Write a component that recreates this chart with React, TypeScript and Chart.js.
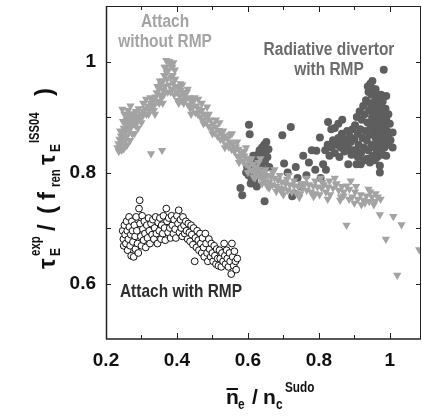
import React, { useEffect, useRef } from 'react';
import { Chart, registerables } from 'chart.js';

Chart.register(...registerables);

const FF = "'Liberation Sans', Arial, Helvetica, sans-serif";

const xMin = 0.2;
const xMax = 1.088;
const yMin = 0.5;
const yMax = 1.1;
const xTickLabels = [0.2, 0.4, 0.6, 0.8, 1.0];
const yTickLabels = [0.6, 0.8, 1.0];
const xTickMarks = [0.3, 0.4, 0.5, 0.6, 0.7, 0.8, 0.9, 1.0];
const yTickMarks = [0.6, 0.7, 0.8, 0.9, 1.0];

// Attach without RMP (light grey down-triangles)
const attachNoRmp: [number, number][] = [
  [0.232, 0.845], [0.235, 0.852], [0.238, 0.860], [0.240, 0.848], [0.242, 0.866], [0.244, 0.855], [0.246, 0.872],
  [0.248, 0.862], [0.250, 0.880], [0.250, 0.843], [0.252, 0.870], [0.254, 0.888], [0.255, 0.858], [0.257, 0.876],
  [0.258, 0.895], [0.260, 0.866], [0.261, 0.884], [0.263, 0.900], [0.265, 0.875], [0.266, 0.890], [0.268, 0.906],
  [0.270, 0.882], [0.272, 0.895], [0.274, 0.870], [0.276, 0.905], [0.278, 0.888], [0.281, 0.897], [0.284, 0.910],
  [0.287, 0.893], [0.290, 0.902], [0.294, 0.898], [0.298, 0.906], [0.302, 0.900], [0.306, 0.910], [0.310, 0.915],
  [0.314, 0.905], [0.318, 0.920], [0.322, 0.912], [0.326, 0.925], [0.330, 0.918], [0.334, 0.930], [0.337, 0.922],
  [0.340, 0.936], [0.343, 0.944], [0.346, 0.928], [0.349, 0.950], [0.352, 0.940], [0.355, 0.958], [0.357, 0.935],
  [0.360, 0.965], [0.362, 0.948], [0.364, 0.975], [0.366, 0.955], [0.368, 0.990], [0.370, 1.002], [0.372, 0.968],
  [0.374, 0.945], [0.376, 0.985], [0.378, 0.958], [0.380, 0.995], [0.383, 0.972], [0.385, 0.950], [0.387, 0.990],
  [0.389, 0.962], [0.392, 0.940], [0.394, 0.985], [0.396, 0.955],
  [0.236, 0.838], [0.244, 0.840], [0.246, 0.914], [0.252, 0.905], [0.256, 0.848], [0.262, 0.912], [0.269, 0.920],
  [0.275, 0.898], [0.283, 0.885], [0.292, 0.915], [0.300, 0.890], [0.313, 0.932], [0.320, 0.905], [0.335, 0.912],
  [0.345, 0.955], [0.350, 0.925], [0.356, 0.962], [0.363, 0.940], [0.371, 0.980], [0.382, 0.945], [0.388, 0.975],
  [0.395, 0.968], [0.398, 0.945],
  [0.240, 0.875], [0.248, 0.892], [0.255, 0.905], [0.260, 0.850], [0.268, 0.858], [0.280, 0.870], [0.290, 0.880],
  [0.305, 0.925], [0.325, 0.935], [0.338, 0.905], [0.352, 0.965], [0.360, 0.925], [0.365, 0.990], [0.378, 1.000],
  [0.390, 0.998],
  [0.327, 0.834], [0.358, 0.840],
  [0.400, 0.945], [0.402, 0.930], [0.405, 0.955], [0.408, 0.938], [0.410, 0.948], [0.413, 0.930], [0.416, 0.944],
  [0.419, 0.925], [0.422, 0.940], [0.425, 0.932], [0.428, 0.945], [0.432, 0.922], [0.435, 0.935], [0.438, 0.915],
  [0.441, 0.928], [0.445, 0.918], [0.448, 0.930], [0.452, 0.908], [0.455, 0.920], [0.459, 0.905], [0.462, 0.915],
  [0.466, 0.900], [0.470, 0.912], [0.474, 0.895], [0.478, 0.905], [0.482, 0.890], [0.486, 0.900], [0.490, 0.883],
  [0.494, 0.895], [0.498, 0.878], [0.502, 0.888], [0.506, 0.872], [0.510, 0.882], [0.514, 0.866], [0.518, 0.876],
  [0.522, 0.860], [0.526, 0.870], [0.530, 0.858], [0.534, 0.866], [0.538, 0.850], [0.542, 0.862], [0.546, 0.846],
  [0.550, 0.855], [0.554, 0.842], [0.558, 0.852], [0.562, 0.838], [0.566, 0.846], [0.570, 0.830], [0.574, 0.842],
  [0.578, 0.826], [0.582, 0.835], [0.586, 0.820], [0.590, 0.830], [0.594, 0.815], [0.598, 0.826], [0.602, 0.810],
  [0.606, 0.820], [0.610, 0.804], [0.614, 0.815], [0.618, 0.800], [0.622, 0.810], [0.626, 0.796], [0.630, 0.806],
  [0.634, 0.792], [0.638, 0.802], [0.642, 0.788], [0.646, 0.798], [0.650, 0.785], [0.655, 0.795], [0.660, 0.782],
  [0.665, 0.792], [0.670, 0.778], [0.675, 0.790], [0.680, 0.775], [0.685, 0.786], [0.690, 0.772], [0.695, 0.783],
  [0.700, 0.770], [0.706, 0.780], [0.712, 0.768], [0.718, 0.778], [0.724, 0.765], [0.730, 0.776], [0.736, 0.763],
  [0.742, 0.774], [0.748, 0.762], [0.754, 0.772], [0.760, 0.780], [0.766, 0.768], [0.772, 0.778], [0.778, 0.765],
  [0.784, 0.776], [0.790, 0.762], [0.796, 0.774], [0.802, 0.760], [0.808, 0.772], [0.814, 0.778], [0.820, 0.765],
  [0.826, 0.774], [0.832, 0.760], [0.840, 0.772], [0.848, 0.778], [0.856, 0.768], [0.862, 0.756], [0.870, 0.765],
  [0.878, 0.776], [0.886, 0.770], [0.894, 0.756], [0.902, 0.765], [0.910, 0.752], [0.918, 0.760], [0.926, 0.750],
  [0.934, 0.758], [0.942, 0.748], [0.950, 0.756], [0.958, 0.748], [0.966, 0.756], [0.974, 0.752],
  [0.410, 0.960], [0.430, 0.950], [0.450, 0.935], [0.470, 0.925], [0.490, 0.905], [0.510, 0.895], [0.530, 0.875],
  [0.550, 0.868], [0.570, 0.855], [0.590, 0.838], [0.610, 0.825], [0.630, 0.818], [0.650, 0.805], [0.670, 0.800],
  [0.690, 0.795], [0.710, 0.788], [0.730, 0.785], [0.750, 0.780], [0.600, 0.800], [0.620, 0.790], [0.640, 0.780],
  [0.660, 0.772], [0.680, 0.766], [0.700, 0.760], [0.790, 0.785], [0.810, 0.782], [0.830, 0.785], [0.850, 0.780],
  [0.870, 0.758], [0.890, 0.785], [0.860, 0.750], [0.930, 0.745], [0.900, 0.745], [0.955, 0.742], [0.945, 0.765],
  [0.405, 0.925], [0.415, 0.958], [0.440, 0.905], [0.460, 0.932], [0.475, 0.888], [0.485, 0.918], [0.500, 0.870],
  [0.520, 0.890], [0.535, 0.845], [0.555, 0.870], [0.575, 0.818], [0.595, 0.845], [0.615, 0.792], [0.635, 0.825],
  [0.655, 0.775], [0.675, 0.805], [0.695, 0.765], [0.715, 0.795], [0.745, 0.755], [0.765, 0.790], [0.785, 0.757],
  [0.805, 0.790], [0.825, 0.752], [0.845, 0.790], [0.865, 0.775], [0.885, 0.752], [0.905, 0.775], [0.920, 0.742],
  [0.940, 0.770], [0.960, 0.762],
  [0.878, 0.705], [0.972, 0.724], [0.989, 0.680], [1.010, 0.721], [1.033, 0.706], [1.021, 0.615], [1.083, 0.661],
];

// Radiative divertor with RMP (dark grey filled circles)
const radiativeRmp: [number, number][] = [
  [0.579, 0.772], [0.584, 0.759], [0.603, 0.886], [0.605, 0.869], [0.595, 0.800], [0.598, 0.810], [0.602, 0.795],
  [0.606, 0.805], [0.610, 0.790], [0.612, 0.815], [0.615, 0.800], [0.618, 0.785], [0.620, 0.825], [0.622, 0.808],
  [0.625, 0.795], [0.628, 0.832], [0.630, 0.818], [0.633, 0.840], [0.636, 0.825], [0.638, 0.810], [0.640, 0.845],
  [0.643, 0.832], [0.646, 0.850], [0.648, 0.820], [0.650, 0.838], [0.652, 0.855], [0.655, 0.828], [0.658, 0.842],
  [0.660, 0.810], [0.615, 0.830], [0.608, 0.780], [0.647, 0.748], [0.625, 0.775], [0.640, 0.795],
  [0.697, 0.867], [0.721, 0.882], [0.702, 0.816], [0.725, 0.757], [0.730, 0.762], [0.712, 0.800], [0.740, 0.790],
  [0.735, 0.810], [0.756, 0.830], [0.772, 0.818], [0.750, 0.775], [0.765, 0.795], [0.780, 0.840], [0.793, 0.839],
  [0.790, 0.805], [0.803, 0.863], [0.805, 0.790], [0.812, 0.815], [0.820, 0.805], [0.826, 0.891], [0.818, 0.840],
  [0.825, 0.850], [0.830, 0.830], [0.835, 0.845], [0.840, 0.858], [0.845, 0.835], [0.850, 0.850], [0.855, 0.862],
  [0.845, 0.880], [0.858, 0.828], [0.862, 0.845], [0.865, 0.870], [0.868, 0.855], [0.872, 0.838], [0.875, 0.860],
  [0.878, 0.848], [0.880, 0.875], [0.883, 0.815], [0.885, 0.842], [0.888, 0.865], [0.890, 0.855], [0.892, 0.832],
  [0.895, 0.878], [0.855, 0.888], [0.835, 0.878], [0.866, 0.895],
  [0.983, 0.985], [0.951, 0.965], [0.990, 0.938], [0.972, 0.800], [0.972, 0.812], [1.008, 0.872], [1.008, 0.845],
  [0.900, 0.860], [0.902, 0.885], [0.905, 0.840], [0.907, 0.900], [0.910, 0.870], [0.912, 0.850], [0.915, 0.910],
  [0.917, 0.878], [0.919, 0.835], [0.921, 0.895], [0.923, 0.862], [0.925, 0.920], [0.927, 0.845], [0.929, 0.905],
  [0.931, 0.875], [0.933, 0.930], [0.935, 0.858], [0.937, 0.890], [0.939, 0.840], [0.940, 0.945], [0.942, 0.912],
  [0.943, 0.868], [0.945, 0.925], [0.946, 0.882], [0.948, 0.850], [0.949, 0.940], [0.950, 0.900], [0.951, 0.830],
  [0.952, 0.915], [0.953, 0.870], [0.955, 0.950], [0.956, 0.888], [0.957, 0.845], [0.958, 0.928], [0.959, 0.905],
  [0.960, 0.862], [0.961, 0.940], [0.962, 0.878], [0.963, 0.835], [0.964, 0.918], [0.965, 0.895], [0.966, 0.855],
  [0.967, 0.932], [0.968, 0.870], [0.969, 0.908], [0.970, 0.885], [0.971, 0.848], [0.972, 0.922], [0.973, 0.862],
  [0.974, 0.898], [0.975, 0.838], [0.976, 0.912], [0.977, 0.875], [0.978, 0.890], [0.979, 0.855], [0.980, 0.928],
  [0.982, 0.868], [0.984, 0.905], [0.985, 0.845], [0.986, 0.882], [0.988, 0.915], [0.989, 0.860], [0.990, 0.895],
  [0.992, 0.875], [0.994, 0.850], [0.996, 0.905], [0.998, 0.870], [1.000, 0.888], [1.002, 0.858], [0.936, 0.825],
  [0.944, 0.818], [0.958, 0.822], [0.965, 0.828], [0.918, 0.815], [0.928, 0.822], [0.910, 0.828], [0.990, 0.830],
  [0.980, 0.832], [0.906, 0.815], [0.898, 0.840], [0.945, 0.960], [0.960, 0.950], [0.938, 0.955], [0.975, 0.940],
];

// Attach with RMP (open circles)
const attachRmp: [number, number][] = [
  [0.247, 0.695], [0.249, 0.680], [0.250, 0.668], [0.252, 0.705], [0.254, 0.688], [0.256, 0.672], [0.258, 0.712],
  [0.260, 0.695], [0.261, 0.660], [0.263, 0.680], [0.265, 0.720], [0.266, 0.702], [0.268, 0.668], [0.270, 0.688],
  [0.271, 0.650], [0.273, 0.712], [0.275, 0.695], [0.276, 0.675], [0.278, 0.648], [0.280, 0.705], [0.282, 0.685],
  [0.283, 0.662], [0.285, 0.720], [0.287, 0.695], [0.289, 0.672], [0.291, 0.655], [0.293, 0.735], [0.295, 0.750],
  [0.296, 0.708], [0.298, 0.685], [0.300, 0.668], [0.302, 0.722], [0.304, 0.698], [0.306, 0.678], [0.308, 0.712],
  [0.310, 0.690], [0.312, 0.665], [0.315, 0.705], [0.317, 0.682], [0.320, 0.718], [0.322, 0.695], [0.324, 0.672],
  [0.327, 0.708], [0.330, 0.688], [0.332, 0.715], [0.335, 0.680], [0.337, 0.700], [0.340, 0.720], [0.342, 0.690],
  [0.345, 0.672], [0.347, 0.710], [0.350, 0.695], [0.352, 0.718], [0.355, 0.680], [0.357, 0.705], [0.360, 0.690],
  [0.362, 0.722], [0.365, 0.700], [0.367, 0.678], [0.370, 0.735], [0.372, 0.712], [0.375, 0.692], [0.377, 0.718],
  [0.380, 0.700], [0.382, 0.682], [0.385, 0.722], [0.387, 0.705], [0.390, 0.690], [0.392, 0.715], [0.395, 0.698],
  [0.397, 0.682], [0.400, 0.722], [0.403, 0.708], [0.405, 0.732], [0.407, 0.692], [0.410, 0.715], [0.412, 0.700],
  [0.415, 0.685], [0.417, 0.720], [0.420, 0.705], [0.422, 0.690], [0.425, 0.712], [0.427, 0.695], [0.430, 0.680],
  [0.432, 0.708], [0.435, 0.692], [0.437, 0.676], [0.440, 0.705], [0.442, 0.688], [0.445, 0.670], [0.447, 0.700],
  [0.450, 0.640], [0.452, 0.682], [0.455, 0.665], [0.457, 0.695], [0.460, 0.678], [0.462, 0.660], [0.465, 0.690],
  [0.467, 0.672], [0.470, 0.655], [0.472, 0.682], [0.475, 0.665], [0.477, 0.648], [0.480, 0.690], [0.482, 0.672],
  [0.485, 0.655], [0.487, 0.640], [0.490, 0.680], [0.492, 0.662], [0.495, 0.648], [0.497, 0.672], [0.500, 0.655],
  [0.502, 0.640], [0.505, 0.668], [0.507, 0.650], [0.510, 0.635], [0.512, 0.662], [0.515, 0.645], [0.517, 0.632],
  [0.520, 0.660], [0.522, 0.645], [0.525, 0.630], [0.527, 0.655], [0.530, 0.640], [0.533, 0.672], [0.535, 0.650],
  [0.537, 0.635], [0.540, 0.660], [0.542, 0.645], [0.545, 0.630], [0.548, 0.655], [0.550, 0.640], [0.553, 0.617],
  [0.555, 0.672], [0.557, 0.648], [0.560, 0.632], [0.562, 0.658], [0.565, 0.640], [0.567, 0.625], [0.570, 0.645],
];

const toPts = (arr: [number, number][]) => arr.map(([x, y]) => ({ x, y }));

const near = (v: number, list: number[]) => list.find((t) => Math.abs(t - v) < 1e-6);
const fmt = (t: number) => (Math.abs(t - 1) < 1e-9 ? '1' : t.toFixed(1));

function drawText(
  ctx: CanvasRenderingContext2D, s: string, x: number, y: number, font: string,
  color: string, align: CanvasTextAlign = 'left', sx = 1,
) {
  ctx.save();
  ctx.translate(x, y);
  ctx.scale(sx, 1);
  ctx.font = font;
  ctx.fillStyle = color;
  ctx.textAlign = align;
  ctx.textBaseline = 'alphabetic';
  ctx.fillText(s, 0, 0);
  ctx.restore();
}

const framePlugin = {
  id: 'frame',
  afterDraw(chart: any) {
    const { ctx, chartArea: a, scales } = chart;
    const xs = scales.x;
    const ys = scales.y;
    ctx.save();
    ctx.strokeStyle = '#222';
    ctx.lineWidth = 1;
    ctx.beginPath();
    ctx.moveTo(a.left, a.top + 0.5);
    ctx.lineTo(a.right, a.top + 0.5);
    ctx.moveTo(a.right - 0.5, a.top);
    ctx.lineTo(a.right - 0.5, a.bottom);
    ctx.stroke();
    ctx.lineWidth = 1.5;
    ctx.beginPath();
    ctx.moveTo(a.left + 0.5, a.top);
    ctx.lineTo(a.left + 0.5, a.bottom);
    ctx.moveTo(a.left, a.bottom);
    ctx.lineTo(a.right, a.bottom);
    ctx.stroke();
    ctx.lineWidth = 1;
    ctx.beginPath();
    for (const v of xTickMarks) {
      const px = Math.round(xs.getPixelForValue(v)) + 0.5;
      const len = near(v, xTickLabels) !== undefined ? 6 : 4;
      ctx.moveTo(px, a.bottom);
      ctx.lineTo(px, a.bottom - len);
      ctx.moveTo(px, a.top);
      ctx.lineTo(px, a.top + len);
    }
    for (const v of yTickMarks) {
      const py = Math.round(ys.getPixelForValue(v)) + 0.5;
      const len = 5;
      ctx.moveTo(a.left, py);
      ctx.lineTo(a.left + len, py);
      ctx.moveTo(a.right, py);
      ctx.lineTo(a.right - len, py);
    }
    ctx.stroke();
    ctx.restore();

    const annFont = `bold 18px ${FF}`;
    drawText(ctx, 'Attach', 165, 27, annFont, '#a4a4a4', 'center', 0.86);
    drawText(ctx, 'without RMP', 165, 47, annFont, '#a4a4a4', 'center', 0.86);
    drawText(ctx, 'Radiative divertor', 329, 55, annFont, '#6c6c6c', 'center', 0.86);
    drawText(ctx, 'with RMP', 329, 75, annFont, '#6c6c6c', 'center', 0.86);
    drawText(ctx, 'Attach with RMP', 181, 297, annFont, '#2e2e2e', 'center', 0.86);

    const mainF = `bold 21px ${FF}`;
    const smallF = `bold 14px ${FF}`;
    const tc = '#111';
    drawText(ctx, 'n', 226, 404, mainF, tc);
    ctx.save();
    ctx.strokeStyle = tc;
    ctx.lineWidth = 2;
    ctx.beginPath();
    ctx.moveTo(226.5, 389);
    ctx.lineTo(238, 389);
    ctx.stroke();
    ctx.restore();
    drawText(ctx, 'e', 238, 409, smallF, tc, 'left', 0.85);
    drawText(ctx, '/', 252, 404, mainF, tc);
    drawText(ctx, 'n', 263, 404, mainF, tc);
    drawText(ctx, 'c', 276, 409, smallF, tc, 'left', 0.85);
    drawText(ctx, 'Sudo', 285, 392, smallF, tc, 'left', 0.84);

    ctx.save();
    ctx.translate(55, 270);
    ctx.rotate(-Math.PI / 2);
    const mF = `bold 24px ${FF}`;
    drawText(ctx, 'τ', 1, 0, mF, tc);
    drawText(ctx, 'E', 14, 5, smallF, tc, 'left', 0.85);
    drawText(ctx, 'exp', 14, -15, smallF, tc, 'left', 0.82);
    drawText(ctx, '/', 39, 0, mF, tc);
    drawText(ctx, '(', 56, 0, mF, tc);
    drawText(ctx, 'f', 70, 0, mF, tc);
    drawText(ctx, 'ren', 83, 5, smallF, tc, 'left', 0.82);
    drawText(ctx, 'τ', 105, 0, mF, tc);
    drawText(ctx, 'E', 118, 5, smallF, tc, 'left', 0.85);
    drawText(ctx, 'ISS04', 127, -16, smallF, tc, 'left', 0.8);
    drawText(ctx, ')', 174, -3, mF, tc);
    ctx.restore();
  },
};

export default function App() {
  const ref = useRef<HTMLCanvasElement | null>(null);
  useEffect(() => {
    if (!ref.current) return;
    const tickFont = { family: FF, size: 19, weight: 'bold' as const };
    const chart = new Chart(ref.current, {
      type: 'scatter',
      data: {
        datasets: [
          {
            label: 'Attach without RMP',
            data: toPts(attachNoRmp),
            pointStyle: 'triangle',
            rotation: 180,
            radius: 4.8,
            backgroundColor: '#a3a3a3',
            borderColor: '#a3a3a3',
            borderWidth: 0,
          },
          {
            label: 'Radiative divertor with RMP',
            data: toPts(radiativeRmp),
            pointStyle: 'circle',
            radius: 4,
            backgroundColor: '#5e5e5e',
            borderColor: '#5e5e5e',
            borderWidth: 0,
          },
          {
            label: 'Attach with RMP',
            data: toPts(attachRmp),
            pointStyle: 'circle',
            radius: 3.4,
            backgroundColor: '#ffffff',
            borderColor: '#111111',
            borderWidth: 1,
          },
        ],
      },
      options: {
        responsive: false,
        animation: false,
        devicePixelRatio: 1,
        layout: { autoPadding: false, padding: { top: 6, right: 1, left: 0, bottom: 0 } },
        plugins: { legend: { display: false }, tooltip: { enabled: false } },
        scales: {
          x: {
            type: 'linear',
            min: xMin,
            max: xMax,
            afterBuildTicks: (s: any) => { s.ticks = xTickLabels.map((value) => ({ value })); },
            afterFit: (s: any) => { s.height = 77; s.paddingLeft = 0; s.paddingRight = 0; },
            grid: { display: false, drawTicks: false },
            border: { display: false },
            ticks: {
              autoSkip: false,
              maxRotation: 0,
              padding: 10,
              color: '#111',
              font: tickFont,
              callback: (v: any) => fmt(Number(v)),
            },
          },
          y: {
            type: 'linear',
            min: yMin,
            max: yMax,
            afterBuildTicks: (s: any) => { s.ticks = yTickLabels.map((value) => ({ value })); },
            afterFit: (s: any) => { s.width = 106; s.paddingTop = 0; s.paddingBottom = 0; },
            grid: { display: false, drawTicks: false },
            border: { display: false },
            ticks: {
              autoSkip: false,
              padding: 10,
              color: '#111',
              font: tickFont,
              callback: (v: any) => fmt(Number(v)),
            },
          },
        },
      },
      plugins: [framePlugin],
    });
    return () => chart.destroy();
  }, []);
  return (
    <div style={{ position: 'fixed', left: 0, top: 0, width: 422, height: 416, background: '#fff' }}>
      <canvas ref={ref} width={422} height={416} style={{ display: 'block', width: 422, height: 416 }} />
    </div>
  );
}
